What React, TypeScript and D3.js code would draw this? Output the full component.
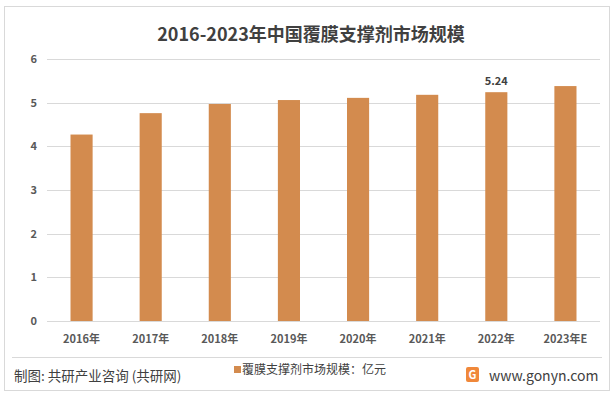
import React, { useEffect, useRef } from "react";
import * as d3 from "d3";

const years = ["2016年", "2017年", "2018年", "2019年", "2020年", "2021年", "2022年", "2023年E"];
const values = [4.27, 4.76, 4.97, 5.06, 5.11, 5.18, 5.24, 5.38];
const labelled = ["2022年"];
const yTicks = [0, 1, 2, 3, 4, 5, 6];

const width = 614;
const height = 394;
const font = "'Noto Sans CJK SC', 'Noto Sans', sans-serif";

export default function App() {
  const root = useRef<SVGSVGElement>(null);

  useEffect(() => {
    const svg = d3.select(root.current);
    svg.selectAll("*").remove();

    const x = d3.scaleBand<string>().domain(years).range([47, 600]).paddingInner(0.68).paddingOuter(0.34);
    const y = d3.scaleLinear().domain([0, 6]).range([321, 59]);

    svg.append("rect")
      .attr("x", 4.5).attr("y", 6.5)
      .attr("width", 605).attr("height", 384)
      .attr("fill", "#fff").attr("stroke", "#d9d9d9");

    svg.append("text")
      .attr("x", 311).attr("y", 41)
      .attr("text-anchor", "middle")
      .attr("font-family", font).attr("font-size", 18).attr("font-weight", "bold")
      .attr("fill", "#404040")
      .text("2016-2023年中国覆膜支撑剂市场规模");

    // grid
    svg.append("g").selectAll("line")
      .data(yTicks)
      .enter()
      .append("line")
      .attr("x1", 47).attr("x2", 600)
      .attr("y1", d => Math.round(y(d)) + 0.5).attr("y2", d => Math.round(y(d)) + 0.5)
      .attr("stroke", "#d9d9d9");

    svg.append("g").selectAll("text")
      .data(yTicks)
      .enter()
      .append("text")
      .attr("x", 37).attr("y", d => y(d) + 4)
      .attr("text-anchor", "end")
      .attr("font-family", font).attr("font-size", 11).attr("font-weight", "bold")
      .attr("fill", "#595959")
      .text(d => d);

    svg.append("g").selectAll("rect")
      .data(values)
      .enter()
      .append("rect")
      .attr("x", (d, i) => x(years[i])!)
      .attr("width", x.bandwidth())
      .attr("y", d => y(d))
      .attr("height", d => y(0) - y(d))
      .attr("fill", "#d38b4e");

    svg.append("g").selectAll("text")
      .data(years)
      .enter()
      .append("text")
      .attr("x", d => x(d)! + x.bandwidth() / 2)
      .attr("y", 343)
      .attr("text-anchor", "middle")
      .attr("font-family", font).attr("font-size", 11).attr("font-weight", "bold")
      .attr("fill", "#595959")
      .text(d => d);

    svg.append("g").selectAll("text")
      .data(years.filter(d => labelled.includes(d)))
      .enter()
      .append("text")
      .attr("x", d => x(d)! + x.bandwidth() / 2)
      .attr("y", d => y(values[years.indexOf(d)]) - 7)
      .attr("text-anchor", "middle")
      .attr("font-family", font).attr("font-size", 11).attr("font-weight", "bold")
      .attr("fill", "#404040")
      .text(d => values[years.indexOf(d)].toFixed(2));

    // footer
    svg.append("line")
      .attr("x1", 12).attr("x2", 602)
      .attr("y1", 357.5).attr("y2", 357.5)
      .attr("stroke", "#d9d9d9");

    svg.append("text")
      .attr("x", 14).attr("y", 381)
      .attr("font-family", font).attr("font-size", 13.5)
      .attr("fill", "#404040")
      .text("制图: 共研产业咨询 (共研网)");

    svg.append("rect")
      .attr("x", 234).attr("y", 366)
      .attr("width", 7).attr("height", 7)
      .attr("fill", "#d38b4e");

    svg.append("text")
      .attr("x", 242).attr("y", 374)
      .attr("font-family", font).attr("font-size", 12)
      .attr("fill", "#404040")
      .text("覆膜支撑剂市场规模：亿元");

    const logo = svg.append("g").attr("transform", "translate(466,367)");
    logo.append("rect").attr("width", 13).attr("height", 15).attr("rx", 2).attr("fill", "#f0883a");
    logo.append("text")
      .attr("x", 6.5).attr("y", 12)
      .attr("text-anchor", "middle")
      .attr("font-family", font).attr("font-size", 11).attr("font-weight", "bold")
      .attr("fill", "#fff")
      .text("G");

    svg.append("text")
      .attr("x", 489).attr("y", 381)
      .attr("font-family", font).attr("font-size", 14)
      .attr("fill", "#404040")
      .text("www.gonyn.com");
  }, []);

  return (
    <div style={{ position: "fixed", left: 0, top: 0 }}>
      <svg ref={root} width={width} height={height} style={{ display: "block" }} />
    </div>
  );
}
